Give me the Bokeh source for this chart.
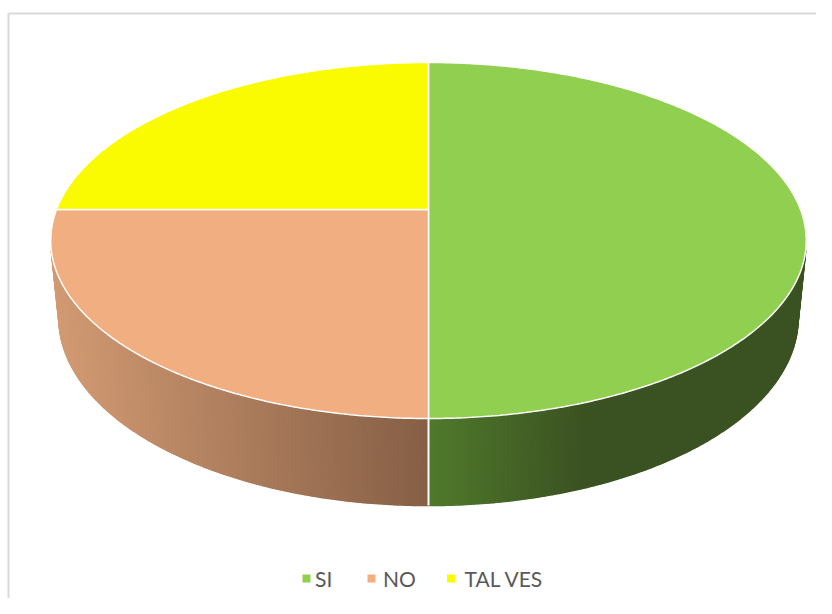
import numpy as np
from bokeh.plotting import figure
from bokeh.models import Range1d, ColumnDataSource
from bokeh.core.properties import value
from bokeh.embed import file_html
from bokeh.resources import INLINE

# ---------------- data ----------------
CATEGORIES = ["SI", "NO", "TAL VES"]
VALUES = [50, 25, 25]

# ---------------- styles ----------------
TOP_COLORS = ["#91cf50", "#f1ae80", "#fafa00"]
SIDE_STOPS = [
    [(428, (80, 121, 44)), (585, (59, 82, 34)), (900, (59, 82, 34))],
    [(40, (212, 156, 116)), (428, (134, 95, 70))],
    [(0, (200, 200, 0)), (900, (200, 200, 0))],
]
TEXT_COLOR = "#595959"
LEGEND_MARK_X = [306, 371, 450.5]
LEGEND_TEXT_X = [314.5, 382.5, 464]
LEGEND_Y = 578

# ---------------- layout ----------------
W, H = 816, 598
CX, CY = 428.0, 209.0       # screen position of pie centre
HALF_W = 372.0              # half width of top face through centre
TOP_Y, FRONT_Y, BOTTOM_Y = 62.0, 418.0, 505.0

k = (FRONT_Y - CY) / (CY - TOP_Y)
b = (k - 1) / (k + 1)
a = (CY - TOP_Y) * (1 + b)
sin_p = a / HALF_W
cos_p = np.sqrt(1 - sin_p ** 2)
R = b / cos_p
F = HALF_W / R
dz = BOTTOM_Y - CY
DEPTH = (dz * (1 - b) - a) / (F * cos_p - dz * sin_p)


def project(theta_deg, y):
    t = np.radians(theta_deg)
    X = R * np.sin(t)
    Z = R * np.cos(t)
    yc = y * cos_p + Z * sin_p
    d = 1 + Z * cos_p - y * sin_p
    return CX + F * X / d, CY - F * yc / d


def lerp_color(stops, x):
    for (x0, c0), (x1, c1) in zip(stops[:-1], stops[1:]):
        if x <= x1:
            t = min(max((x - x0) / (x1 - x0), 0.0), 1.0)
            c = [int(round(c0[i] + (c1[i] - c0[i]) * t)) for i in range(3)]
            return "#%02x%02x%02x" % tuple(c)
    return "#%02x%02x%02x" % stops[-1][1]


total = float(sum(VALUES))
bounds = [0.0]
for v in VALUES:
    bounds.append(bounds[-1] + 360.0 * v / total)

p = figure(width=W, height=H, output_backend="svg", toolbar_location=None,
           x_range=Range1d(0, W), y_range=Range1d(H, 0),
           min_border=0, outline_line_color=None)
p.axis.visible = False
p.grid.visible = False
p.background_fill_color = "white"
p.border_fill_color = "white"

# chart frame (top & left visible)
p.line([8, W + 5], [13, 13], line_color="#d9d9d9", line_width=2)
p.line([8, 8], [13, H + 5], line_color="#d9d9d9", line_width=2)

# ---------------- side strips ----------------
step = 0.5
sx_list, sy_list, sc_list = [], [], []
limit = -R / cos_p
for i in range(len(VALUES)):
    a0, a1 = bounds[i], bounds[i + 1]
    th = a0
    while th < a1 - 1e-9:
        th2 = min(th + step, a1)
        mid = 0.5 * (th + th2)
        if np.cos(np.radians(mid)) < limit:
            x1t, y1t = project(th, 0.0)
            x2t, y2t = project(th2, 0.0)
            x1b, y1b = project(th, -DEPTH)
            x2b, y2b = project(th2, -DEPTH)
            sx_list.append([x1t, x2t, x2b, x1b])
            sy_list.append([y1t, y2t, y2b, y1b])
            sc_list.append(lerp_color(SIDE_STOPS[i], 0.5 * (x1t + x2t)))
        th = th2

side_src = ColumnDataSource(dict(xs=sx_list, ys=sy_list, c=sc_list))
p.patches("xs", "ys", source=side_src, fill_color="c", line_color="c", line_width=1.6)

# side separators at slice boundaries
for bd in bounds:
    if np.cos(np.radians(bd)) < limit:
        xt, yt = project(bd, 0.0)
        xb, yb = project(bd, -DEPTH)
        p.line([xt, xb], [yt, yb], line_color="white", line_width=2)

# ---------------- top faces ----------------
txs, tys = [], []
for i in range(len(VALUES)):
    thetas = np.arange(bounds[i], bounds[i + 1] + 1e-9, step)
    xs, ys = project(thetas, 0.0)
    txs.append([CX] + list(xs))
    tys.append([CY] + list(ys))
top_src = ColumnDataSource(dict(xs=txs, ys=tys, c=TOP_COLORS))
p.patches("xs", "ys", source=top_src, fill_color="c", line_color="white", line_width=1.5)

# ---------------- legend ----------------
leg_src = ColumnDataSource(dict(mx=LEGEND_MARK_X, tx=LEGEND_TEXT_X,
                                y=[LEGEND_Y] * 3, lab=CATEGORIES, c=TOP_COLORS))
p.scatter("mx", "y", source=leg_src, marker="square", size=8,
          fill_color="c", line_color=None)
p.text("tx", "y", text="lab", source=leg_src, text_font=value("Lato"),
       text_font_size="21px", text_color=TEXT_COLOR, text_baseline="middle",
       text_align="left")

open("out.html", "w").write(file_html(p, INLINE))
